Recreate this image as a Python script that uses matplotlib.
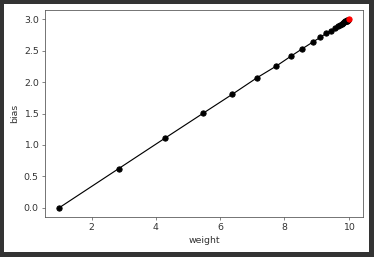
import matplotlib
matplotlib.use("Agg")
import matplotlib.pyplot as plt
from matplotlib.patches import Rectangle

# ======== data ========
weight = [1.0, 2.84, 4.28, 5.47, 6.38, 7.15, 7.75, 8.21, 8.56, 8.89, 9.12, 9.31,
          9.45, 9.57, 9.66, 9.73, 9.79, 9.83, 9.87, 9.90, 9.92, 9.94, 9.95,
          9.96, 9.97, 9.98]
bias = [0.0, 0.62, 1.105, 1.503, 1.806, 2.07, 2.256, 2.415, 2.532, 2.64, 2.714, 2.78,
        2.82, 2.86, 2.89, 2.91, 2.93, 2.94, 2.96, 2.97, 2.97, 2.98, 2.98,
        2.99, 2.99, 2.99]
final_weight = [10.0]
final_bias = [3.0]
# ===========================================

dpi = 64
fig = plt.figure(figsize=(374 / dpi, 257 / dpi), dpi=dpi, facecolor="#333333")
# white notebook cell area inside the dark frame
fig.patches.append(Rectangle((4 / 374, 5 / 257), 365 / 374, 248 / 257,
                             transform=fig.transFigure, facecolor="white",
                             edgecolor="none", zorder=-1))

ax = fig.add_axes([45 / 374, 1 - 217 / 257, 318 / 374, 207 / 257])
ax.plot(weight, bias, "o-", color="black", linewidth=1.3, markersize=6)
ax.plot(final_weight, final_bias, "o", color="red", markersize=6)

ax.set_xlabel("weight", fontsize=10.5, color="#333333", labelpad=4)
ax.set_ylabel("bias", fontsize=10.5, color="#333333", labelpad=5)
ax.set_xticks([2, 4, 6, 8, 10])
ax.set_yticks([0.0, 0.5, 1.0, 1.5, 2.0, 2.5, 3.0])
ax.tick_params(axis="both", labelsize=10.5, labelcolor="#333333",
               color="#555555", length=3.5, width=0.8, pad=3.5)
for s in ax.spines.values():
    s.set_color("#555555")
    s.set_linewidth(0.9)

fig.savefig("out.png", dpi=dpi, facecolor=fig.get_facecolor())
